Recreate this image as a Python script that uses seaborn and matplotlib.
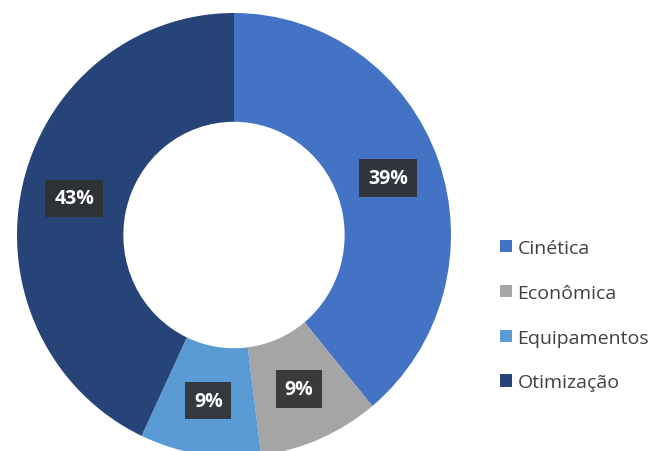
import matplotlib
matplotlib.use("Agg")
import matplotlib.pyplot as plt
from matplotlib.patches import Patch
import seaborn as sns

categorias = ["Cinética", "Econômica", "Equipamentos", "Otimização"]
percentuais = [39, 9, 9, 43]
cores = ["#4472C4", "#A5A5A5", "#5B9BD5", "#264478"]

sns.set_theme(style="white")
plt.rcParams["font.family"] = ["Open Sans", "DejaVu Sans"]

W, H = 659, 452
fig = plt.figure(figsize=(W / 100, H / 100), dpi=100)
fig.patch.set_facecolor("white")

# donut geometry in pixels
cx, cy = 234, 236
rx, ry = 217, 222
ax = fig.add_axes([(cx - rx) / W, (H - cy - ry) / H, 2 * rx / W, 2 * ry / H])

wedges, _, autotexts = ax.pie(
    percentuais,
    colors=cores,
    startangle=90,
    counterclock=False,
    radius=1.0,
    autopct=lambda p: f"{p:.0f}%",
    pctdistance=0.755,
    wedgeprops=dict(width=0.49, linewidth=0),
    textprops=dict(color="white", fontsize=14, fontweight="bold"),
)
for t in autotexts:
    t.set_bbox(dict(boxstyle="square,pad=0.45", facecolor="#2f2f2f",
                    edgecolor="none", alpha=0.9))
ax.set_aspect("auto")
ax.set_xlim(-1, 1)
ax.set_ylim(-1, 1)
ax.axis("off")

handles = [Patch(facecolor=c, edgecolor="none") for c in cores]
leg = fig.legend(
    handles, categorias,
    loc="upper left",
    bbox_to_anchor=(500 / W, 1 - 240 / H),
    frameon=False,
    borderaxespad=0, borderpad=0,
    handlelength=0.6, handleheight=0.6,
    handletextpad=0.3,
    labelspacing=1.38,
    prop=dict(family=["Open Sans", "DejaVu Sans"], size=14),
    labelcolor="#404040",
)

fig.savefig("out.png", dpi=100, facecolor="white")
